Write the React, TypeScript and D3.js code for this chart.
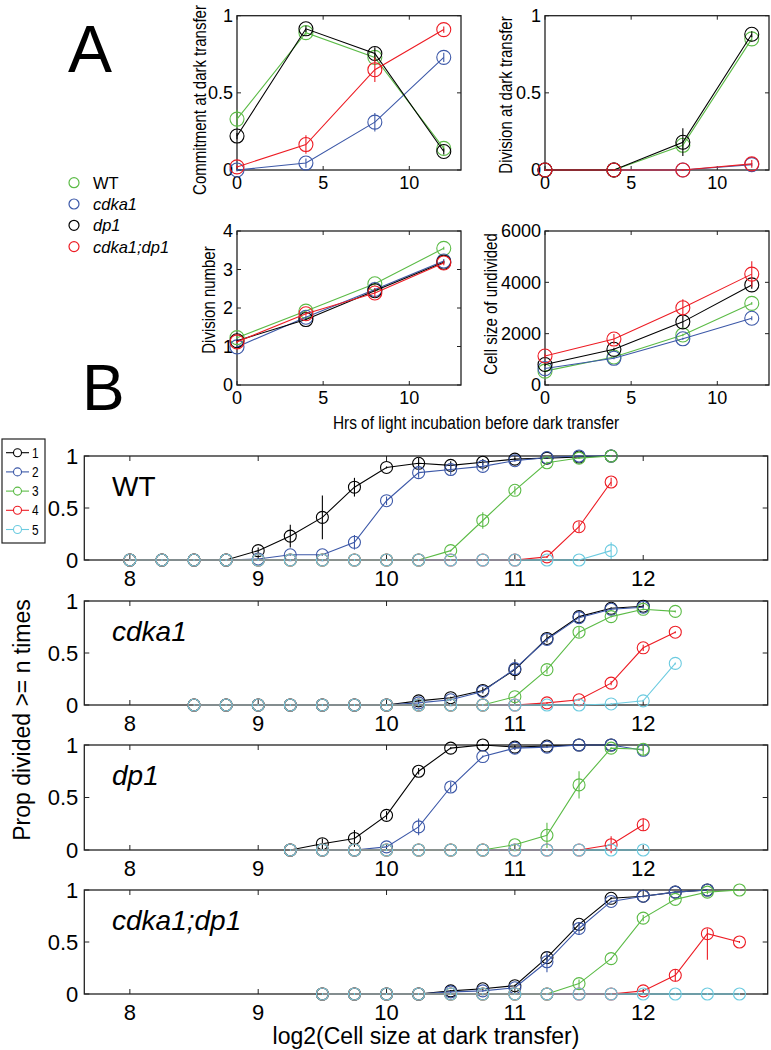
import React from "react";
import * as d3 from "d3";

// ---- colours ----
const genoColors = ["#5bbb46", "#3c58a8", "#000000", "#ed1c24"];
const genoNames = ["WT", "cdka1", "dp1", "cdka1;dp1"];
const nColors = ["#000000", "#3c58a8", "#5bbb46", "#ed1c24", "#6ccbe0"];
const nLabels = ["1", "2", "3", "4", "5"];

// ---- panel A data (hrs of light before dark transfer) ----
const hours = [0, 4, 8, 12];

const commitWT = [0.33, 0.89, 0.73, 0.14];
const commitCdka1 = [0.0, 0.045, 0.31, 0.73];
const commitDp1 = [0.22, 0.915, 0.755, 0.12];
const commitBoth = [0.02, 0.165, 0.65, 0.91];
const commitErr = [
  [0.06, 0.02, 0.03, 0.02],
  [0.01, 0.03, 0.06, 0.03],
  [0.02, 0.02, 0.04, 0.02],
  [0.01, 0.06, 0.08, 0.02],
];

const divWT = [0, 0, 0.16, 0.85];
const divCdka1 = [0, 0, 0, 0.035];
const divDp1 = [0, 0, 0.18, 0.88];
const divBoth = [0, 0, 0, 0.04];
const divErr = [
  [0, 0.005, 0.03, 0.02],
  [0, 0, 0, 0.01],
  [0, 0.005, 0.09, 0.02],
  [0, 0.005, 0.005, 0.025],
];

const numWT = [1.23, 1.92, 2.63, 3.55];
const numCdka1 = [0.99, 1.76, 2.48, 3.22];
const numDp1 = [1.15, 1.7, 2.45, 3.19];
const numBoth = [1.12, 1.85, 2.39, 3.17];
const numErr = [
  [0.03, 0.03, 0.05, 0.04],
  [0.03, 0.03, 0.04, 0.05],
  [0.03, 0.03, 0.04, 0.04],
  [0.03, 0.05, 0.12, 0.06],
];

const sizeWT = [540, 1090, 1950, 3180];
const sizeCdka1 = [640, 1040, 1800, 2600];
const sizeDp1 = [800, 1390, 2460, 3900];
const sizeBoth = [1130, 1790, 3010, 4320];
const sizeErr = [
  [30, 30, 50, 50],
  [30, 30, 40, 80],
  [60, 60, 230, 150],
  [90, 200, 330, 500],
];

// ---- panel B data (log2 cell size, proportion divided >= n times) ----
const wtX = [8, 8.25, 8.5, 8.75, 9, 9.25, 9.5, 9.75, 10, 10.25, 10.5, 10.75, 11, 11.25, 11.5, 11.75];
const wt1 = [0, 0, 0, 0, 0.09, 0.23, 0.41, 0.7, 0.89, 0.93, 0.91, 0.94, 0.97, 0.98, 0.99, 1.0];
const wt2 = [0, 0, 0, 0, 0.01, 0.05, 0.05, 0.17, 0.57, 0.84, 0.87, 0.9, 0.955, 0.985, 1.0, 1.0];
const wt3 = [0, 0, 0, 0, 0, 0, 0, 0, 0, 0, 0.09, 0.38, 0.67, 0.935, 0.98, 1.0];
const wt4 = [0, 0, 0, 0, 0, 0, 0, 0, 0, 0, 0, 0, 0, 0.03, 0.32, 0.75];
const wt5 = [0, 0, 0, 0, 0, 0, 0, 0, 0, 0, 0, 0, 0, 0, 0, 0.09];
// [n, x, down, up]
const wtErr = [
  [1, 9, 0.03, 0.03], [1, 9.25, 0.11, 0.11], [1, 9.5, 0.21, 0.21], [1, 9.75, 0.09, 0.09],
  [1, 10.25, 0.05, 0.05], [1, 10.5, 0.04, 0.04], [1, 10.75, 0.03, 0.03],
  [2, 9.75, 0.07, 0.07], [2, 10, 0.04, 0.04], [2, 10.25, 0.05, 0.05], [2, 10.5, 0.05, 0.05],
  [2, 10.75, 0.04, 0.04], [3, 10.75, 0.08, 0.08], [3, 11, 0.04, 0.04],
  [4, 11.5, 0.05, 0.05], [4, 11.75, 0.04, 0.04], [5, 11.75, 0.08, 0.08],
];

const cdkX = [8.5, 8.75, 9, 9.25, 9.5, 9.75, 10, 10.25, 10.5, 10.75, 11, 11.25, 11.5, 11.75, 12, 12.25];
const cdk1 = [0, 0, 0, 0, 0, 0, 0, 0.04, 0.07, 0.14, 0.34, 0.64, 0.85, 0.93, 0.95, null];
const cdk2 = [0, 0, 0, 0, 0, 0, 0, 0.02, 0.05, 0.13, 0.35, 0.63, 0.84, 0.92, 0.94, null];
const cdk3 = [0, 0, 0, 0, 0, 0, 0, 0, 0, 0, 0.08, 0.34, 0.7, 0.85, 0.92, 0.9];
const cdk4 = [0, 0, 0, 0, 0, 0, 0, 0, 0, 0, 0, 0.02, 0.05, 0.21, 0.55, 0.7];
const cdk5 = [0, 0, 0, 0, 0, 0, 0, 0, 0, 0, 0, 0, 0, 0.01, 0.04, 0.4];
const cdkErr = [
  [1, 10.75, 0.03, 0.03], [1, 11, 0.1, 0.1], [1, 11.25, 0.04, 0.04],
  [2, 11, 0.05, 0.05], [2, 11.5, 0.06, 0.06],
  [3, 11.25, 0.04, 0.04], [3, 11.5, 0.05, 0.05],
  [4, 11.75, 0.02, 0.02], [4, 12, 0.03, 0.03],
];

const dpX = [9.25, 9.5, 9.75, 10, 10.25, 10.5, 10.75, 11, 11.25, 11.5, 11.75, 12];
const dp1s = [0, 0.06, 0.11, 0.33, 0.75, 0.97, 1.0, 0.98, 0.99, 1.0, 1.0, null];
const dp2s = [0, 0, 0, 0.03, 0.22, 0.6, 0.89, 0.97, 0.98, 1.0, 1.0, 0.95];
const dp3s = [0, 0, 0, 0, 0, 0, 0, 0.05, 0.14, 0.62, 0.97, 0.96];
const dp4s = [0, 0, 0, 0, 0, 0, 0, 0, 0, 0, 0.05, 0.24];
const dp5s = [0, 0, 0, 0, 0, 0, 0, 0, 0, 0, 0, 0];
const dpErr = [
  [1, 9.5, 0.05, 0.05], [1, 9.75, 0.08, 0.08], [1, 10, 0.04, 0.04], [1, 10.25, 0.03, 0.03],
  [2, 10.25, 0.08, 0.08], [2, 10.5, 0.05, 0.05],
  [3, 11.25, 0.12, 0.12], [3, 11.5, 0.13, 0.13], [3, 12, 0.06, 0.06],
  [4, 11.75, 0.08, 0.08], [4, 12, 0.06, 0.06],
];

const bothX = [9.5, 9.75, 10, 10.25, 10.5, 10.75, 11, 11.25, 11.5, 11.75, 12, 12.25, 12.5, 12.75];
const both1 = [0, 0, 0, 0, 0.03, 0.05, 0.08, 0.35, 0.67, 0.92, 0.94, 0.98, 1.0, null];
const both2 = [0, 0, 0, 0, 0.02, 0.03, 0.06, 0.31, 0.63, 0.89, 0.94, 0.98, 1.0, null];
const both3 = [0, 0, 0, 0, 0, 0, 0, 0, 0.1, 0.34, 0.73, 0.91, 0.98, 1.0];
const both4 = [0, 0, 0, 0, 0, 0, 0, 0, 0, 0, 0.03, 0.18, 0.58, 0.5];
const both5 = [0, 0, 0, 0, 0, 0, 0, 0, 0, 0, 0, 0, 0, 0];
const bothErr = [
  [1, 11.25, 0.03, 0.03], [2, 11.25, 0.1, 0.1], [2, 11.5, 0.06, 0.06],
  [3, 11.5, 0.04, 0.04], [3, 12, 0.03, 0.03], [3, 12.5, 0.02, 0.02],
  [4, 12.25, 0.06, 0.06], [4, 12.5, 0.25, 0.05],
];

const bXTicks = [8, 9, 10, 11, 12];
const bYTicks = [0, 0.5, 1];

const SANS = "'Liberation Sans', Arial, Helvetica, sans-serif";
const AXIS = "#222";

function Frame({ x, y, xTicks, yTicks, fs, tick, xGap, yGap }) {
  const [x0, x1] = x.range();
  const [y0, y1] = y.range();
  return (
    <g>
      <rect x={x0} y={y1} width={x1 - x0} height={y0 - y1} fill="none" stroke={AXIS} strokeWidth={1.3} />
      {xTicks.map((t) => (
        <g key={"x" + t}>
          <line x1={x(t)} x2={x(t)} y1={y0} y2={y0 - tick} stroke={AXIS} />
          <line x1={x(t)} x2={x(t)} y1={y1} y2={y1 + tick} stroke={AXIS} />
          <text x={x(t)} y={y0 + xGap} textAnchor="middle" fontSize={fs} fontFamily={SANS}>{t}</text>
        </g>
      ))}
      {yTicks.map((t) => (
        <g key={"y" + t}>
          <line x1={x0} x2={x0 + tick} y1={y(t)} y2={y(t)} stroke={AXIS} />
          <line x1={x1} x2={x1 - tick} y1={y(t)} y2={y(t)} stroke={AXIS} />
          <text x={x0 - yGap} y={y(t)} dy="0.36em" textAnchor="end" fontSize={fs} fontFamily={SANS}>{t}</text>
        </g>
      ))}
    </g>
  );
}

function Series({ xs, vs, errLo, errHi, x, y, color, r }) {
  const pts = xs.map((xv, i) => ({ xv, v: vs[i], lo: errLo[i], hi: errHi[i] })).filter((d) => d.v != null);
  const line = d3.line().x((d) => x(d.xv)).y((d) => y(d.v));
  return (
    <g>
      <path d={line(pts)} fill="none" stroke={color} strokeWidth={1.1} />
      {pts.map((d, i) => (
        <line key={"e" + i} x1={x(d.xv)} x2={x(d.xv)}
          y1={Math.max(y(d.v - d.lo), y(d.v) + 1)} y2={Math.min(y(d.v + d.hi), y(d.v) - 1)}
          stroke={color} strokeWidth={1.1} />
      ))}
      {pts.map((d, i) => (
        <circle key={"c" + i} cx={x(d.xv)} cy={y(d.v)} r={r} fill="none" stroke={color} strokeWidth={1.1} />
      ))}
    </g>
  );
}

// condensed look of the panel A labels: squeeze along the text direction
function Narrow({ x, y, fs, rotate, children }) {
  return (
    <text transform={`translate(${x},${y})${rotate ? " rotate(-90)" : ""} scale(0.81,1)`} textAnchor="middle"
      fontSize={fs} fontFamily={SANS}>
      {children}
    </text>
  );
}

const aPanels = [
  { label: "Commitment at dark transfer", series: [commitWT, commitCdka1, commitDp1, commitBoth], err: commitErr,
    yDomain: [0, 1], yTicks: [0, 0.5, 1], xr: [237, 461], yr: [170, 15.7], lx: 206, ly: 100 },
  { label: "Division at dark transfer", series: [divWT, divCdka1, divDp1, divBoth], err: divErr,
    yDomain: [0, 1], yTicks: [0, 0.5, 1], xr: [545, 769], yr: [170, 15.7], lx: 512, ly: 95 },
  { label: "Division number", series: [numWT, numCdka1, numDp1, numBoth], err: numErr,
    yDomain: [0, 4], yTicks: [0, 1, 2, 3, 4], xr: [237, 461], yr: [385, 231], lx: 215, ly: 300 },
  { label: "Cell size of undivided", series: [sizeWT, sizeCdka1, sizeDp1, sizeBoth], err: sizeErr,
    yDomain: [0, 6000], yTicks: [0, 2000, 4000, 6000], xr: [545, 769], yr: [385, 231], lx: 497, ly: 304 },
];

const bX = d3.scaleLinear().domain([7.645, 12.97]).range([84.3, 767.7]);
const bPanels = [
  { name: "WT", italic: false, xs: wtX, series: [wt1, wt2, wt3, wt4, wt5], err: wtErr, yr: [560, 456] },
  { name: "cdka1", italic: true, xs: cdkX, series: [cdk1, cdk2, cdk3, cdk4, cdk5], err: cdkErr, yr: [705, 601] },
  { name: "dp1", italic: true, xs: dpX, series: [dp1s, dp2s, dp3s, dp4s, dp5s], err: dpErr, yr: [850, 745] },
  { name: "cdka1;dp1", italic: true, xs: bothX, series: [both1, both2, both3, both4, both5], err: bothErr, yr: [994, 890] },
];

function PanelA({ p }) {
  const x = d3.scaleLinear().domain([0, 13]).range(p.xr);
  const y = d3.scaleLinear().domain(p.yDomain).range(p.yr);
  return (
    <g>
      <Frame x={x} y={y} xTicks={[0, 5, 10]} yTicks={p.yTicks} fs={18} tick={4} xGap={19} yGap={4} />
      <Narrow x={p.lx} y={p.ly} fs={18.5} rotate>{p.label}</Narrow>
      {p.series.map((vs, i) => (
        <Series key={i} xs={hours} vs={vs} errLo={p.err[i]} errHi={p.err[i]} x={x} y={y} color={genoColors[i]} r={7} />
      ))}
    </g>
  );
}

function PanelB({ p }) {
  const y = d3.scaleLinear().domain([0, 1]).range(p.yr);
  return (
    <g>
      <Frame x={bX} y={y} xTicks={bXTicks} yTicks={bYTicks} fs={22} tick={5} xGap={26} yGap={6} />
      <text x={112} y={p.yr[1] + 40} fontSize={28} fontFamily={SANS} fontStyle={p.italic ? "italic" : "normal"}>
        {p.name}
      </text>
      {p.series.map((vs, i) => {
        const lo = p.xs.map((xv) => {
          const e = p.err.find((d) => d[0] === i + 1 && d[1] === xv);
          return e ? e[2] : 0;
        });
        const hi = p.xs.map((xv) => {
          const e = p.err.find((d) => d[0] === i + 1 && d[1] === xv);
          return e ? e[3] : 0;
        });
        return <Series key={i} xs={p.xs} vs={vs} errLo={lo} errHi={hi} x={bX} y={y} color={nColors[i]} r={6} />;
      })}
    </g>
  );
}

export default function App() {
  return (
    <svg width={771} height={1050} style={{ position: "absolute", left: 0, top: 0, background: "#fff" }}>
      <rect width={771} height={1050} fill="#fff" />
      <text x={68} y={72} fontSize={66} fontFamily={SANS}>A</text>
      <text x={82} y={410} fontSize={64} fontFamily={SANS}>B</text>

      {aPanels.map((p, i) => <PanelA key={i} p={p} />)}
      <Narrow x={476} y={429} fs={19}>Hrs of light incubation before dark transfer</Narrow>

      {/* genotype legend */}
      {genoNames.map((n, i) => (
        <g key={n}>
          <circle cx={74} cy={182.7 + i * 21.3} r={5} fill="none" stroke={genoColors[i]} strokeWidth={1.2} />
          <text x={93} y={182.7 + i * 21.3} dy="0.36em" fontSize={16.5} fontFamily={SANS} fontStyle={i === 0 ? "normal" : "italic"}>
            {n}
          </text>
        </g>
      ))}

      {bPanels.map((p, i) => <PanelB key={i} p={p} />)}

      {/* n legend */}
      <rect x={2} y={439} width={43} height={104} fill="#fff" stroke={AXIS} strokeWidth={1.2} />
      {nLabels.map((n, i) => (
        <g key={n}>
          <line x1={6} x2={29} y1={452.7 + i * 19.2} y2={452.7 + i * 19.2} stroke={nColors[i]} strokeWidth={1.1} />
          <circle cx={17.5} cy={452.7 + i * 19.2} r={4} fill="#fff" stroke={nColors[i]} strokeWidth={1.1} />
          <text transform={`translate(32,${452.7 + i * 19.2}) scale(0.85,1)`} dy="0.36em" fontSize={14} fontFamily={SANS}>{n}</text>
        </g>
      ))}

      <text transform={`translate(30,720) rotate(-90)`} textAnchor="middle" fontSize={23} fontFamily={SANS}>
        Prop divided &gt;= n times
      </text>
      <text x={426} y={1044} textAnchor="middle" fontSize={23} fontFamily={SANS}>
        log2(Cell size at dark transfer)
      </text>
    </svg>
  );
}
